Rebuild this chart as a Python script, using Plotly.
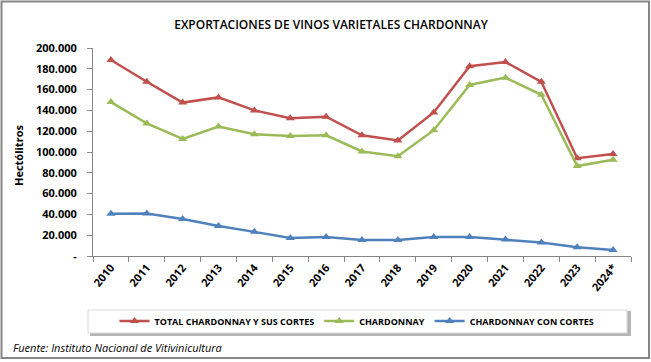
import plotly.graph_objects as go

years = ["2010", "2011", "2012", "2013", "2014", "2015", "2016", "2017",
         "2018", "2019", "2020", "2021", "2022", "2023", "2024*"]
total = [188500, 167500, 147500, 152500, 140000, 132500, 134000, 116000,
         111000, 138000, 182500, 186500, 167500, 94000, 98000]
chardonnay = [148000, 127500, 112500, 124500, 117000, 115500, 116000, 100500,
              96000, 121000, 164500, 171500, 155000, 86500, 92500]
con_cortes = [40700, 40900, 35500, 28800, 23200, 17300, 18200, 15500,
              15500, 18300, 18300, 15800, 13000, 8500, 5800]
y_ticks = [0, 20000, 40000, 60000, 80000, 100000, 120000, 140000, 160000, 180000, 200000]
y_tick_text = ["-", "20.000", "40.000", "60.000", "80.000", "100.000", "120.000",
               "140.000", "160.000", "180.000", "200.000"]

W, H = 651, 362
L, R, T, B = 93, 20, 48, 106
PW, PH = W - L - R, H - T - B

def px(x):
    return (x - L) / PW

def py(y):
    return (H - B - y) / PH

FONT = "Open Sans"
fig = go.Figure()
series = [
    ("TOTAL CHARDONNAY Y SUS CORTES", total, "#C0504D"),
    ("CHARDONNAY", chardonnay, "#9BBB59"),
    ("CHARDONNAY CON CORTES", con_cortes, "#4F81BD"),
]
for name, vals, col in series:
    fig.add_trace(go.Scatter(
        x=years, y=vals, name=name, mode="lines+markers",
        line=dict(color=col, width=2.5),
        marker=dict(symbol="triangle-up", size=8, color=col),
    ))

shapes = [
    # outer frame
    dict(type="rect", xref="paper", yref="paper", x0=px(1.5), x1=px(649), y0=py(358), y1=py(1.5),
         line=dict(color="#868686", width=2), fillcolor="rgba(0,0,0,0)", layer="below"),
    # legend shadow
    dict(type="rect", xref="paper", yref="paper", x0=px(90), x1=px(631), y0=py(336), y1=py(311),
         line=dict(width=0), fillcolor="#b5b5b5", layer="below"),
    # legend box
    dict(type="rect", xref="paper", yref="paper", x0=px(88), x1=px(627), y0=py(333), y1=py(310),
         line=dict(color="#d9d9d9", width=1), fillcolor="white", layer="below"),
]

annotations = [
    dict(text="Hectólitros", textangle=-90, xref="paper", yref="paper",
         x=px(18), y=py(156), showarrow=False, xanchor="center", yanchor="middle",
         font=dict(family=FONT, size=11, color="#000", weight="bold")),
    dict(text="<i>Fuente: Instituto Nacional de Vitivinicultura</i>", xref="paper", yref="paper",
         x=px(11), y=py(347), showarrow=False, xanchor="left", yanchor="middle",
         font=dict(family=FONT, size=11, color="#000")),
]

fig.update_layout(
    width=W, height=H,
    margin=dict(l=L, r=R, t=T, b=B),
    paper_bgcolor="white", plot_bgcolor="white",
    title=dict(text="EXPORTACIONES DE VINOS VARIETALES CHARDONNAY",
               xref="container", x=331 / W, xanchor="center",
               yref="container", y=1 - 25 / H, yanchor="middle",
               font=dict(family=FONT, size=12, color="#000", weight=600)),
    showlegend=True,
    legend=dict(orientation="h", x=px(357), xanchor="center", y=py(321), yanchor="middle",
                bgcolor="rgba(0,0,0,0)",
                font=dict(family=FONT, size=9, color="#000", weight="bold")),
    xaxis=dict(type="category", range=[-0.5, 14.5], showgrid=False,
               showline=True, linecolor="#868686", linewidth=1,
               ticks="outside", ticklen=5, tickcolor="#868686", tickson="boundaries",
               tickangle=-50, tickfont=dict(family=FONT, size=11, color="#000", weight="bold")),
    yaxis=dict(range=[0, 200000], showgrid=False, zeroline=False,
               showline=True, linecolor="#868686", linewidth=1,
               ticks="outside", ticklen=5, tickcolor="#868686",
               tickvals=y_ticks, ticktext=y_tick_text, ticklabelstandoff=8,
               tickfont=dict(family=FONT, size=11, color="#000", weight="bold")),
    shapes=shapes, annotations=annotations,
)

fig.write_html("out.html", config={"displayModeBar": False},
               post_script="document.body.style.margin='0';")
